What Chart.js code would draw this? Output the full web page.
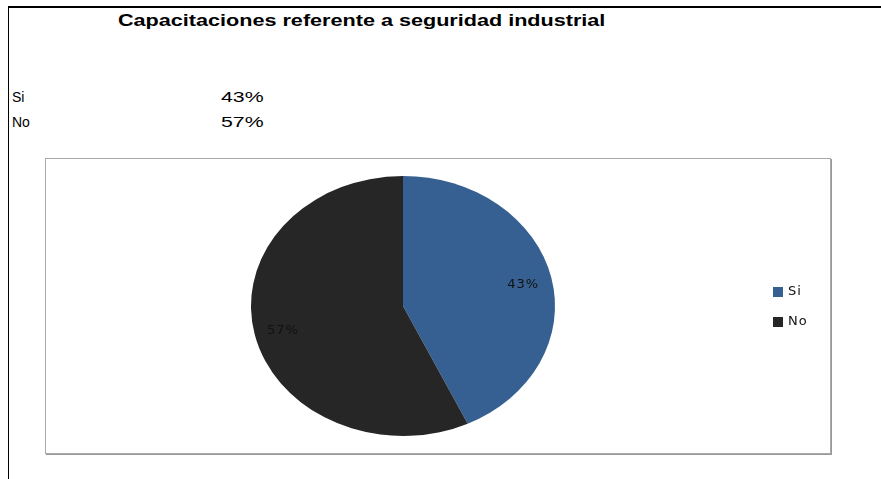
<!DOCTYPE html>
<html>
<head>
<meta charset="utf-8">
<script src="https://cdn.jsdelivr.net/npm/chart.js@4/dist/chart.umd.min.js"></script>
<style>
    body { margin: 0; background: #fff; }
    #page { position: relative; width: 881px; height: 479px; overflow: hidden; font-family: Arial, "Liberation Sans", sans-serif; }
    .lineTop { position: absolute; left: 8px; top: 6px; width: 873px; height: 2px; background: #000; }
    .lineLeft { position: absolute; left: 8px; top: 6px; width: 1px; height: 473px; background: #000; }
    #title { position: absolute; left: 118px; top: 12px; font-weight: bold; font-size: 16px; white-space: nowrap; transform: scaleX(1.35); transform-origin: left top; }
    .cell { position: absolute; font-size: 14px; white-space: nowrap; }
    .num { font-size: 15px; transform: scaleX(1.42); transform-origin: left top; }
    #box { position: absolute; left: 45px; top: 158px; width: 784px; height: 294px; border: 1px solid #aaa; box-shadow: 1px 1px 0 #999; }
    #pie { position: absolute; left: 0; top: 0; }
</style>
</head>
<body>
<div id="page">
    <div class="lineTop"></div>
    <div class="lineLeft"></div>
    <div id="title"></div>
    <div id="table"></div>
    <div id="box"><canvas id="pie" width="784" height="294"></canvas></div>
</div>
<script>
const title = 'Capacitaciones referente a seguridad industrial';
const categories = ['Si', 'No'];
const percents = [43, 57];
const colors = ['#366092', '#262626'];

document.getElementById('title').textContent = title;

// Small table above the chart
const table = document.getElementById('table');
categories.forEach((cat, i) => {
    const name = document.createElement('div');
    name.className = 'cell';
    name.style.left = '12px';
    name.style.top = (89 + i * 25) + 'px';
    name.textContent = cat;
    const val = document.createElement('div');
    val.className = 'cell num';
    val.style.left = '221px';
    val.style.top = (88 + i * 25) + 'px';
    val.textContent = percents[i] + '%';
    table.appendChild(name);
    table.appendChild(val);
});

// Pie is drawn as a circle and stretched sideways into an ellipse
const stretchX = 152 / 130;

const ellipsePlugin = {
    id: 'ellipse',
    beforeDatasetsDraw(chart) {
        const arc = chart.getDatasetMeta(0).data[0];
        const ctx = chart.ctx;
        ctx.save();
        ctx.translate(arc.x, arc.y);
        ctx.scale(stretchX, 1);
        ctx.translate(-arc.x, -arc.y);
    },
    afterDatasetsDraw(chart) {
        const ctx = chart.ctx;
        ctx.restore();

        // percentage labels inside the slices
        ctx.save();
        ctx.font = '13px "DejaVu Sans"';
        ctx.letterSpacing = '1px';
        ctx.fillStyle = '#111';
        ctx.textAlign = 'center';
        ctx.textBaseline = 'middle';
        chart.getDatasetMeta(0).data.forEach((arc, i) => {
            const mid = (arc.startAngle + arc.endAngle) / 2;
            const r = arc.outerRadius * 0.81;
            const x = arc.x + Math.cos(mid) * r * stretchX;
            const y = arc.y + Math.sin(mid) * r + 2;
            ctx.fillText(percents[i] + '%', x, y);
        });
        ctx.restore();
    },
    afterDraw(chart) {
        // legend on the right
        const ctx = chart.ctx;
        ctx.save();
        ctx.font = '13px "DejaVu Sans"';
        ctx.letterSpacing = '1px';
        ctx.textBaseline = 'middle';
        categories.forEach((cat, i) => {
            ctx.fillStyle = colors[i];
            ctx.fillRect(727, 128 + i * 30, 10, 10);
            ctx.fillStyle = '#111';
            ctx.fillText(cat, 742, 133 + i * 30);
        });
        ctx.restore();
    }
};

new Chart(document.getElementById('pie'), {
    type: 'pie',
    data: {
        labels: categories,
        datasets: [{
            data: percents,
            backgroundColor: colors,
            borderWidth: 0
        }]
    },
    options: {
        responsive: false,
        animation: false,
        layout: { padding: { top: 17, bottom: 17, left: 227, right: 297 } },
        plugins: {
            legend: { display: false },
            tooltip: { enabled: false }
        }
    },
    plugins: [ellipsePlugin]
});
</script>
</body>
</html>
